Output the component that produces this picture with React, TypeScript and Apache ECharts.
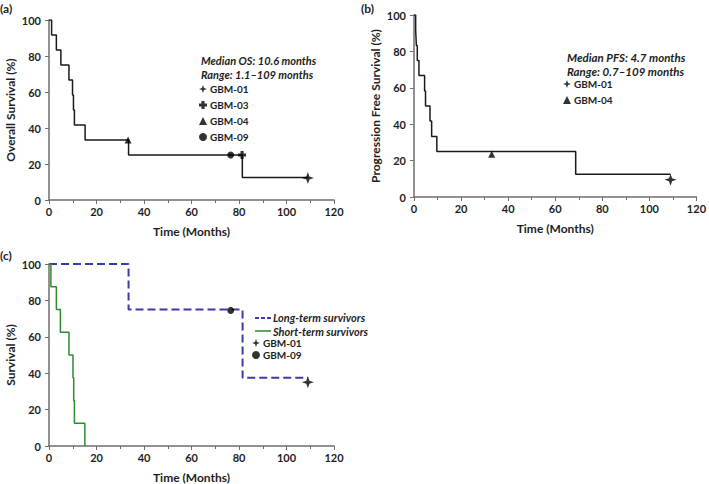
import React, { useEffect, useRef } from "react";
import * as echarts from "echarts";

// ---- Data ----
// Panel (a): Overall survival (time in months, survival %)
const osTimes = [0, 1.1, 3.1, 5.0, 8.4, 9.9, 10.3, 10.7, 15.2, 33.5, 81.4, 109];
const osSurv = [100, 91.7, 83.3, 75, 66.7, 58.3, 50, 41.7, 33.3, 25, 12.5, 12.5];
// censored marks (a)
const osGBM01 = [[109, 12.2]];
const osGBM03 = [[81.3, 25]];
const osGBM04 = [[33.3, 33.3]];
const osGBM09 = [[76.5, 25]];

// Panel (b): Progression free survival
const pfsTimes = [0, 0.7, 1.0, 1.4, 2.1, 4.5, 4.9, 6.8, 7.5, 9.7, 68.7, 109];
const pfsSurv = [100, 91.7, 83.3, 75, 66.7, 58.3, 50, 41.7, 33.3, 25, 12.5, 12.5];
const pfsGBM01 = [[109, 9.5]];
const pfsGBM04 = [[33, 23.5]];

// Panel (c): Long vs short-term survivors
const longTimes = [0, 33.5, 81.5, 109];
const longSurv = [100, 75, 37.5, 37.5];
const shortTimes = [0, 0.8, 3.1, 4.8, 8.4, 10.1, 10.4, 10.7, 15.1];
const shortSurv = [100, 87.5, 75, 62.5, 50, 37.5, 25, 12.5, 0];
const cGBM01 = [[109, 35]];
const cGBM09 = [[76.5, 74.5]];

const xTicks = [0, 20, 40, 60, 80, 100, 120];
const yTicks = [0, 20, 40, 60, 80, 100];

const zip = (xs: number[], ys: number[]) => xs.map((x, i) => [x, ys[i]]);

const STAR = "path://M0,-10 L2.6,-2.6 L10,0 L2.6,2.6 L0,10 L-2.6,2.6 L-10,0 L-2.6,-2.6 Z";
const PLUS = "path://M-3.5,-9 H3.5 V-3.5 H9 V3.5 H3.5 V9 H-3.5 V3.5 H-9 V-3.5 H-3.5 Z";

const FONT = "Lato";
const TXT = "#1e1e1e";
const AX = "#6e6e6e";
const BLUE = "#3c3ca8";
const GREEN = "#2f8a2f";

export default function App() {
  const ref = useRef<HTMLDivElement>(null);
  useEffect(() => {
    if (!ref.current) return;
    const chart = echarts.init(ref.current, undefined, { renderer: "svg" });

    const grids = [
      { left: 49, top: 20, width: 285, height: 180 },
      { left: 414, top: 15, width: 285, height: 182 },
      { left: 49, top: 264, width: 285, height: 182 },
    ];
    const yNames = ["Overall Survival (%)", "Progression Free Survival (%)", "Survival (%)"];

    const xAxis = grids.map((_, i) => ({
      type: "value",
      gridIndex: i,
      min: 0,
      max: 120,
      interval: 20,
      name: "Time (Months)",
      nameLocation: "middle",
      nameGap: 25,
      nameTextStyle: { fontFamily: FONT, fontWeight: "bold", fontSize: 12, color: TXT },
      axisLine: { show: true, lineStyle: { color: AX, width: 1.5 } },
      axisTick: { show: true, length: 4, lineStyle: { color: AX, width: 1 } },
      minorTick: { show: true, splitNumber: 2, length: 3, lineStyle: { color: AX } },
      splitLine: { show: false },
      axisLabel: {
        fontFamily: FONT,
        fontWeight: "bold",
        fontSize: 11,
        color: TXT,
        margin: 6,
        formatter: (v: number) => (xTicks.includes(v) ? String(v) : ""),
      },
    }));
    const yAxis = grids.map((_, i) => ({
      type: "value",
      gridIndex: i,
      min: 0,
      max: 100,
      interval: 20,
      name: yNames[i],
      nameLocation: "middle",
      nameGap: 33,
      nameTextStyle: { fontFamily: FONT, fontWeight: "bold", fontSize: 12, color: TXT },
      axisLine: { show: true, lineStyle: { color: AX, width: 1.5 } },
      axisTick: { show: true, length: 4, lineStyle: { color: AX, width: 1 } },
      splitLine: { show: false },
      axisLabel: {
        fontFamily: FONT,
        fontWeight: "bold",
        fontSize: 11,
        color: TXT,
        margin: 8,
        formatter: (v: number) => (yTicks.includes(v) ? String(v) : ""),
      },
    }));

    const stepLine = (name: string, data: number[][], idx: number, color: string, type = "solid", width = 1.5) => ({
      name,
      type: "line",
      step: "end",
      xAxisIndex: idx,
      yAxisIndex: idx,
      data,
      symbol: "none",
      lineStyle: { color, width, type },
      itemStyle: { color },
      z: 2,
    });
    const marks = (name: string, data: number[][], idx: number, symbol: string, size: number) => ({
      name,
      type: "scatter",
      xAxisIndex: idx,
      yAxisIndex: idx,
      data,
      symbol,
      symbolSize: size,
      itemStyle: { color: "#000" },
      z: 5,
    });

    const legendBase = {
      orient: "vertical",
      itemWidth: 8,
      itemHeight: 8,
      itemGap: 4,
      selectedMode: false,
      textStyle: { fontFamily: FONT, fontWeight: "bold", fontSize: 10, color: TXT, padding: [0, 0, 0, -2] },
      padding: 0,
    };

    const note = (left: number, top: number, text: string, size: number, lh: number) => ({
      type: "text",
      left,
      top,
      style: {
        text,
        fontFamily: FONT,
        fontStyle: "italic",
        fontWeight: "bold",
        fontSize: size,
        lineHeight: lh,
        fill: TXT,
      },
    });

    const option = {
      animation: false,
      grid: grids,
      xAxis,
      yAxis,
      legend: [
        {
          ...legendBase,
          left: 199,
          top: 84,
          data: [
            { name: "GBM-01", icon: STAR },
            { name: "GBM-03", icon: PLUS },
            { name: "GBM-04", icon: "triangle" },
            { name: "GBM-09", icon: "circle" },
          ],
          itemGap: 6,
        },
        {
          ...legendBase,
          left: 563,
          top: 79,
          data: [
            { name: "GBM-01", icon: STAR },
            { name: "GBM-04", icon: "triangle" },
          ],
          itemGap: 6,
        },
        {
          ...legendBase,
          left: 252,
          top: 338,
          itemGap: 2,
          data: [
            { name: "GBM-01", icon: STAR },
            { name: "GBM-09", icon: "circle" },
          ],
        },
      ],
      graphic: [
        { type: "text", left: 0, top: 2, style: { text: "(a)", font: `bold 12px ${FONT}`, fill: TXT } },
        { type: "text", left: 361, top: 2, style: { text: "(b)", font: `bold 12px ${FONT}`, fill: TXT } },
        { type: "text", left: 0, top: 249, style: { text: "(c)", font: `bold 12px ${FONT}`, fill: TXT } },
        note(201, 54, "Median OS: 10.6 months\nRange: 1.1\u2013109 months", 11, 13.5),
        note(567, 50, "Median PFS: 4.7 months\nRange: 0.7\u2013109 months", 11.5, 14),
        { type: "line", shape: { x1: 255, y1: 318, x2: 271, y2: 318 }, style: { stroke: BLUE, lineWidth: 2, lineDash: [4, 2] } },
        { type: "line", shape: { x1: 255, y1: 331, x2: 271, y2: 331 }, style: { stroke: GREEN, lineWidth: 1.5 } },
        note(273, 311, "Long-term survivors\nShort-term survivors", 11, 13.5),
      ],
      series: [
        stepLine("OS", zip(osTimes, osSurv), 0, "#1a1a1a"),
        marks("GBM-01", osGBM01, 0, STAR, 12),
        marks("GBM-03", osGBM03, 0, PLUS, 8),
        marks("GBM-04", osGBM04, 0, "triangle", 7),
        marks("GBM-09", osGBM09, 0, "circle", 7),
        stepLine("PFS", zip(pfsTimes, pfsSurv), 1, "#1a1a1a"),
        marks("GBM-01", pfsGBM01, 1, STAR, 12),
        marks("GBM-04", pfsGBM04, 1, "triangle", 7),
        stepLine("Long-term survivors", zip(longTimes, longSurv), 2, BLUE, "dashed", 2),
        stepLine("Short-term survivors", zip(shortTimes, shortSurv), 2, GREEN, "solid", 1.5),
        marks("GBM-01", cGBM01, 2, STAR, 12),
        marks("GBM-09", cGBM09, 2, "circle", 7),
      ],
    };
    chart.setOption(option as any);
    return () => chart.dispose();
  }, []);
  return <div ref={ref} style={{ position: "absolute", left: 0, top: 0, width: 709, height: 484 }} />;
}
